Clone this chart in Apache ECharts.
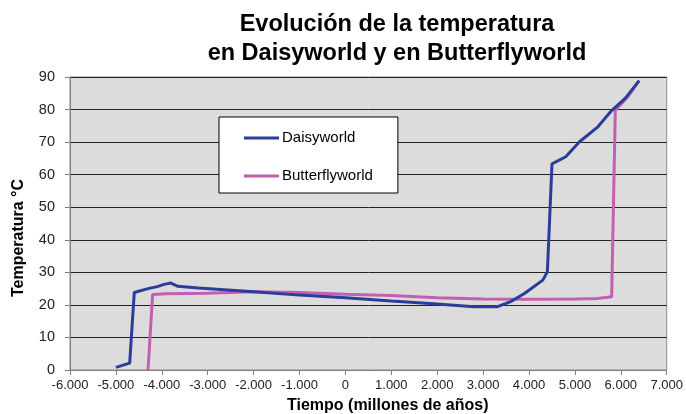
<!DOCTYPE html>
<html><head><meta charset="utf-8">
<script src="https://cdn.jsdelivr.net/npm/echarts@6/dist/echarts.min.js"></script>
<style>html,body{margin:0;padding:0;background:#fff}#c{width:686px;height:414px}</style>
</head><body><div id="c"></div>
<script>
var titleLines = ['Evolución de la temperatura', 'en Daisyworld y en Butterflyworld'];
var xAxisName = 'Tiempo (millones de años)';
var yAxisName = 'Temperatura °C';
var seriesNames = ['Daisyworld', 'Butterflyworld'];
var daisyX = [-5000,-4700,-4600,-4300,-4100,-3950,-3800,-3650,-3200,-2800,-2000,-1000,0,1000,2000,2800,3300,3600,3900,4300,4400,4500,4800,5100,5500,5800,6100,6400];
var daisyY = [0.8,2.1,23.8,25.0,25.6,26.3,26.7,25.7,25.2,24.8,24.0,23.0,22.2,21.2,20.3,19.4,19.4,21.0,23.5,27.6,30.2,63.3,65.5,70.1,74.7,79.7,83.5,88.9];
var butterX = [-4300,-4200,-3900,-3000,-2000,-1000,0,1000,2000,3000,4000,5000,5500,5800,5880,6150,6400];
var butterY = [0,23.2,23.4,23.6,24.0,23.8,23.3,22.9,22.2,21.8,21.7,21.8,22.0,22.5,79.8,83.9,88.9];
var xMin = -6000, xMax = 7000, xStep = 1000;
var yMin = 0, yMax = 90, yStep = 10;

function pairs(xs, ys){ return xs.map(function(x,i){ return [x, ys[i]]; }); }
function fmtThousands(v){
  var s = Math.abs(v).toString().replace(/\B(?=(\d{3})+(?!\d))/g, '.');
  return (v < 0 ? '-' : '') + s;
}
var chart = echarts.init(document.getElementById('c'), null, {renderer:'canvas'});
var font = 'Arial, "Liberation Sans", sans-serif';
chart.setOption({
  animation: false,
  backgroundColor: '#ffffff',
  textStyle: {fontFamily: font},
  title: {
    text: titleLines.join('\n'),
    left: 392, top: 5, textAlign: 'center',
    textStyle: {fontSize: 23.5, fontWeight: 'bold', color: '#000', lineHeight: 29, fontFamily: font}
  },
  grid: {left: 70, right: 17, top: 77, bottom: 44, show: true, backgroundColor: '#dcdcdc', borderColor: '#8c8c8c', borderWidth: 1},
  legend: {
    data: seriesNames,
    orient: 'vertical',
    left: 219, top: 117,
    backgroundColor: '#fff', borderColor: '#000', borderWidth: 1, borderRadius: 0,
    padding: [11, 25, 7, 25], itemGap: 18,
    icon: 'rect', itemWidth: 35, itemHeight: 3,
    textStyle: {fontSize: 15, color: '#000', lineHeight: 20, padding: [0,0,0,-2], fontFamily: font}
  },
  xAxis: {
    type: 'value', min: xMin, max: xMax, interval: xStep,
    axisLine: {onZero: false, lineStyle: {color: '#808080', width: 1}},
    axisTick: {show: true, length: 5, lineStyle: {color: '#808080'}},
    axisLabel: {formatter: fmtThousands, fontSize: 13, color: '#222', margin: 9, fontFamily: font},
    splitLine: {show: false}
  },
  yAxis: {
    type: 'value', min: yMin, max: yMax, interval: yStep,
    axisLine: {show: true, onZero: false, lineStyle: {color: '#808080', width: 1}},
    axisTick: {show: true, length: 5, lineStyle: {color: '#808080'}},
    axisLabel: {fontSize: 14.5, color: '#222', margin: 15, fontFamily: font},
    splitLine: {show: true, lineStyle: {color: '#222', width: 1}}
  },
  graphic: [
    {type: 'text', left: 287, top: 398, style: {text: xAxisName, font: 'bold 16px ' + font, fill: '#000'}},
    {type: 'text', x: 19, y: 238, rotation: Math.PI/2, style: {text: yAxisName, font: 'bold 16px ' + font, fill: '#000', textAlign: 'center', textVerticalAlign: 'middle'}}
  ],
  series: [
    {name: seriesNames[0], type: 'line', data: pairs(daisyX, daisyY), showSymbol: false, symbol: 'none',
     lineStyle: {color: '#2b3c9a', width: 3}, itemStyle: {color: '#2b3c9a'}, z: 3},
    {name: seriesNames[1], type: 'line', data: pairs(butterX, butterY), showSymbol: false, symbol: 'none',
     lineStyle: {color: '#c45fb0', width: 3}, itemStyle: {color: '#c45fb0'}, z: 2}
  ]
});
</script></body></html>
